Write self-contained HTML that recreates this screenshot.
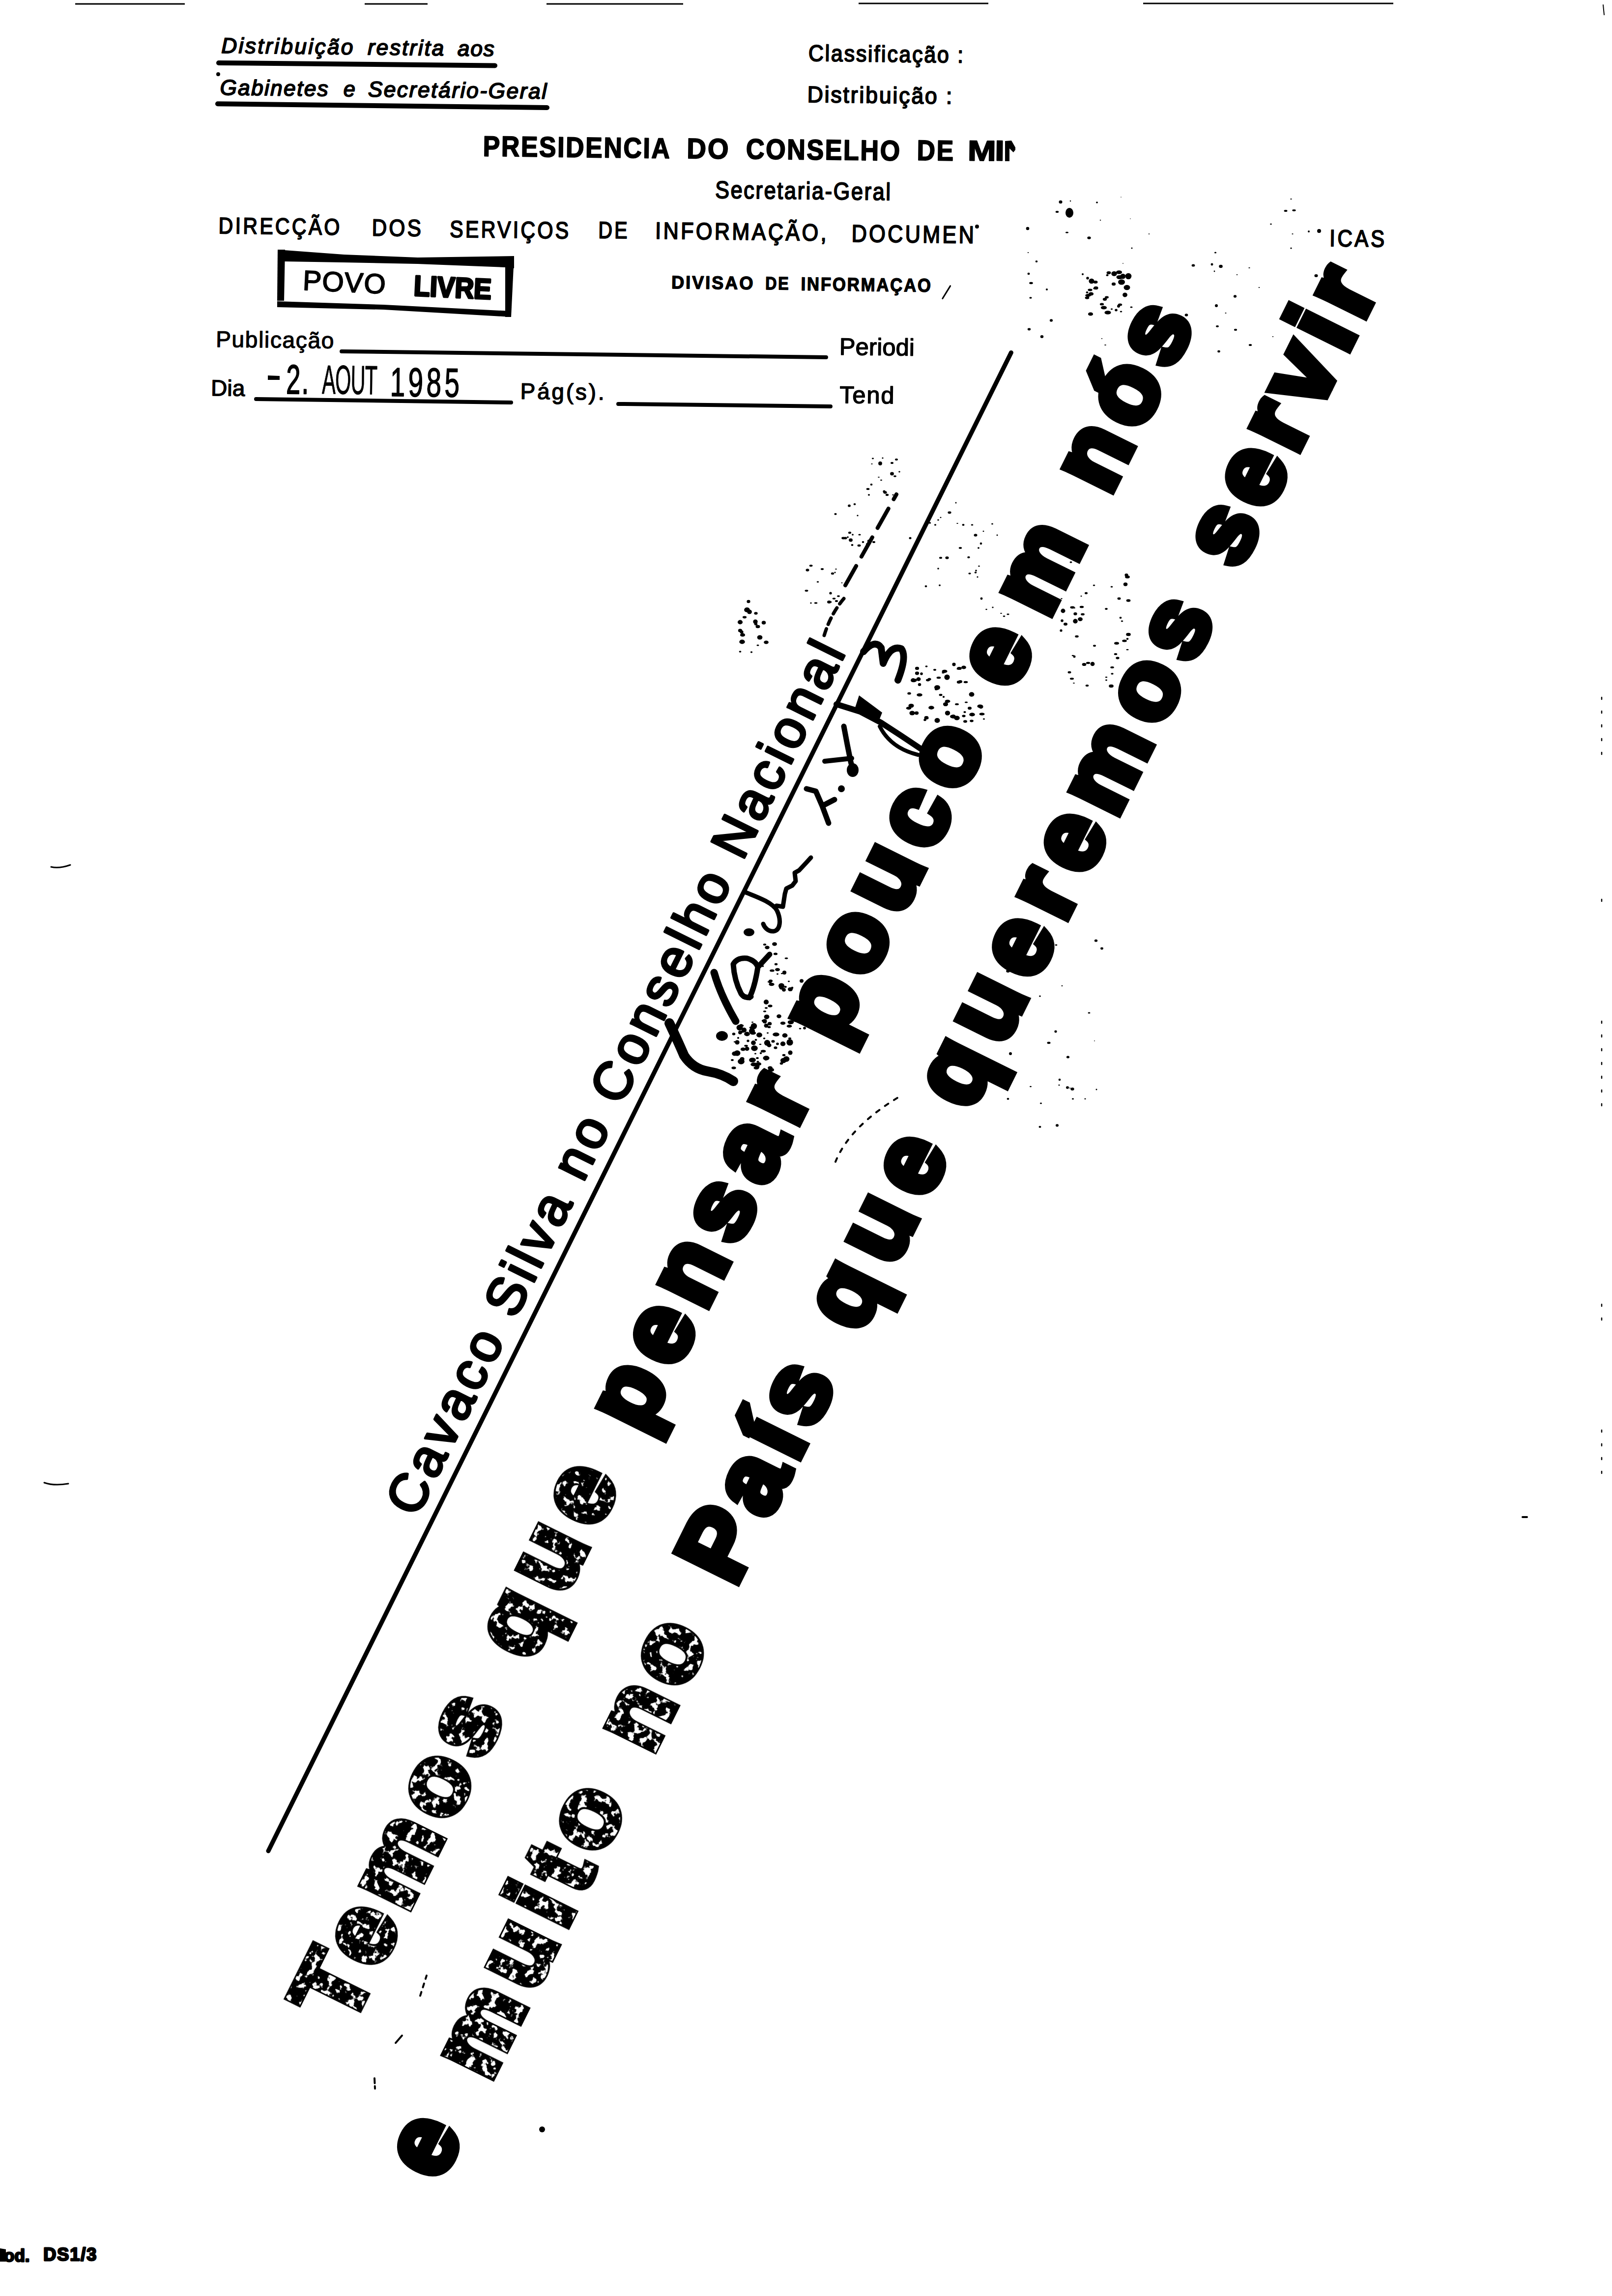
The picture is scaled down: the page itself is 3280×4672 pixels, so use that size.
<!DOCTYPE html>
<html><head><meta charset="utf-8"><title>doc</title>
<style>
html,body{margin:0;padding:0;background:#fff;}
body{width:3280px;height:4672px;overflow:hidden;position:relative;}
svg{position:absolute;left:0;top:0;display:block;}
text{font-family:"Liberation Sans",sans-serif;fill:#000;}
</style></head><body>
<svg width="3280" height="4672" viewBox="0 0 3280 4672">
<defs>
<filter id="tex1" x="-5%" y="-5%" width="110%" height="110%" color-interpolation-filters="sRGB">
<feTurbulence type="fractalNoise" baseFrequency="0.07" numOctaves="3" seed="5" result="n"/>
<feColorMatrix in="n" type="matrix" values="0 0 0 0 0  0 0 0 0 0  0 0 0 0 0  14 0 0 0 -7.8" result="h"/>
<feMorphology in="SourceAlpha" operator="erode" radius="3" result="e"/>
<feComposite in="h" in2="e" operator="in" result="hole"/>
<feComposite in="SourceGraphic" in2="hole" operator="out"/>
</filter>
<filter id="tex2" x="-5%" y="-5%" width="110%" height="110%" color-interpolation-filters="sRGB">
<feTurbulence type="fractalNoise" baseFrequency="0.07" numOctaves="3" seed="9" result="n"/>
<feColorMatrix in="n" type="matrix" values="0 0 0 0 0  0 0 0 0 0  0 0 0 0 0  14 0 0 0 -8.2" result="h"/>
<feMorphology in="SourceAlpha" operator="erode" radius="3" result="e"/>
<feComposite in="h" in2="e" operator="in" result="hole"/>
<feComposite in="SourceGraphic" in2="hole" operator="out"/>
</filter>
</defs>
<rect width="3280" height="4672" fill="#fff"/>
<g stroke="#000" stroke-width="3">
<line x1="153" y1="8" x2="376" y2="8"/><line x1="742" y1="8" x2="870" y2="8"/><line x1="1112" y1="8" x2="1390" y2="8"/>
<line x1="1747" y1="7" x2="2011" y2="7"/><line x1="2326" y1="7" x2="2835" y2="7"/></g>
<g transform="rotate(0.6875 447 475)">
<text x="445.8" y="107.7" font-size="44.00" font-style="italic" textLength="268.1" lengthAdjust="spacing" stroke="#000" stroke-width="2" stroke-linejoin="round">Distribuição</text>
<text x="743.6" y="107.7" font-size="44.00" font-style="italic" textLength="155.1" lengthAdjust="spacing" stroke="#000" stroke-width="2" stroke-linejoin="round">restrita</text>
<text x="926.5" y="107.7" font-size="44.00" font-style="italic" textLength="74.7" lengthAdjust="spacing" stroke="#000" stroke-width="2" stroke-linejoin="round">aos</text>
<line x1="440.8" y1="128.0" x2="1002.9" y2="126.8" stroke="#000" stroke-width="10" stroke-linecap="round"/>
<circle cx="440.1" cy="151.1" r="4"/>
<text x="444.0" y="193.0" font-size="44.00" font-style="italic" textLength="220.2" lengthAdjust="spacing" stroke="#000" stroke-width="2" stroke-linejoin="round">Gabinetes</text>
<text transform="translate(696.0 0) scale(0.9769 1) translate(-696.0 0)" x="695.5" y="193.0" font-size="44.00" font-style="italic" stroke="#000" stroke-width="2" stroke-linejoin="round">e</text>
<text x="745.3" y="193.0" font-size="44.00" font-style="italic" textLength="363.3" lengthAdjust="spacing" stroke="#000" stroke-width="2" stroke-linejoin="round">Secretário-Geral</text>
<line x1="439.8" y1="211.4" x2="1109.9" y2="211.0" stroke="#000" stroke-width="10" stroke-linecap="round"/>
<text transform="translate(1641.7 0) scale(0.9221 1) translate(-1641.7 0)" x="1640.4" y="109.6" font-size="46.51" textLength="341.9" lengthAdjust="spacing" stroke="#000" stroke-width="2" stroke-linejoin="round">Classificação :</text>
<text transform="translate(1641.7 0) scale(0.9572 1) translate(-1641.7 0)" x="1639.0" y="193.6" font-size="46.51" textLength="307.8" lengthAdjust="spacing" stroke="#000" stroke-width="2" stroke-linejoin="round">Distribuição :</text>
<text transform="translate(983.1 0) scale(0.8894 1) translate(-983.1 0)" x="980.3" y="311.0" font-size="58.14" font-weight="bold" textLength="427.4" lengthAdjust="spacing" stroke="#000" stroke-width="2" stroke-linejoin="round">PRESIDENCIA</text>
<text transform="translate(1398.1 0) scale(0.9407 1) translate(-1398.1 0)" x="1395.3" y="310.6" font-size="58.14" font-weight="bold" textLength="90.2" lengthAdjust="spacing" stroke="#000" stroke-width="2" stroke-linejoin="round">DO</text>
<text transform="translate(1517.1 0) scale(0.8930 1) translate(-1517.1 0)" x="1515.8" y="310.1" font-size="58.14" font-weight="bold" textLength="350.5" lengthAdjust="spacing" stroke="#000" stroke-width="2" stroke-linejoin="round">CONSELHO</text>
<text transform="translate(1866.1 0) scale(0.8870 1) translate(-1866.1 0)" x="1863.3" y="308.8" font-size="58.14" font-weight="bold" textLength="83.8" lengthAdjust="spacing" stroke="#000" stroke-width="2" stroke-linejoin="round">DE</text>
<text transform="translate(1970.1 0) scale(1.1944 1) translate(-1970.1 0)" x="1967.3" y="308.2" font-size="58.14" font-weight="bold" stroke="#000" stroke-width="2" stroke-linejoin="round">M</text>
<text transform="translate(2025.4 0) scale(1.2176 1) translate(-2025.4 0)" x="2022.6" y="307.5" font-size="58.14" font-weight="bold" stroke="#000" stroke-width="2" stroke-linejoin="round">I</text>
<polygon points="2042.6,267.8 2055.6,266.7 2063.8,280.6 2063.8,285.6 2059.9,290.6 2051.8,282.7 2052.1,308.7 2043.1,308.8"/>
<text transform="translate(1455.1 0) scale(0.8761 1) translate(-1455.1 0)" x="1453.8" y="390.9" font-size="49.42" textLength="407.5" lengthAdjust="spacing" stroke="#000" stroke-width="2" stroke-linejoin="round">Secretaria-Geral</text>
<text transform="translate(447.0 0) scale(0.8787 1) translate(-447.0 0)" x="444.3" y="475.0" font-size="46.51" textLength="280.5" lengthAdjust="spacing" stroke="#000" stroke-width="2" stroke-linejoin="round">DIRECÇÃO</text>
<text transform="translate(759.0 0) scale(0.8803 1) translate(-759.0 0)" x="756.2" y="475.8" font-size="47.97" textLength="113.9" lengthAdjust="spacing" stroke="#000" stroke-width="2" stroke-linejoin="round">DOS</text>
<text transform="translate(916.1 0) scale(0.8581 1) translate(-916.1 0)" x="914.9" y="476.9" font-size="47.97" textLength="282.0" lengthAdjust="spacing" stroke="#000" stroke-width="2" stroke-linejoin="round">SERVIÇOS</text>
<text transform="translate(1219.7 0) scale(0.8245 1) translate(-1219.7 0)" x="1216.8" y="475.2" font-size="47.97" textLength="71.6" lengthAdjust="spacing" stroke="#000" stroke-width="2" stroke-linejoin="round">DE</text>
<text transform="translate(1336.1 0) scale(0.8972 1) translate(-1336.1 0)" x="1332.7" y="475.1" font-size="47.97" textLength="388.4" lengthAdjust="spacing" stroke="#000" stroke-width="2" stroke-linejoin="round">INFORMAÇÃO,</text>
<text transform="translate(1735.1 0) scale(0.8735 1) translate(-1735.1 0)" x="1732.2" y="476.5" font-size="49.42" textLength="285.3" lengthAdjust="spacing" stroke="#000" stroke-width="2" stroke-linejoin="round">DOCUMEN</text>
<text transform="translate(2708.1 0) scale(0.8815 1) translate(-2708.1 0)" x="2704.8" y="473.9" font-size="47.97" textLength="126.9" lengthAdjust="spacing" stroke="#000" stroke-width="2" stroke-linejoin="round">ICAS</text>
<circle cx="1987.7" cy="442.5" r="4"/>
<circle cx="2683.8" cy="443.2" r="4"/>
<circle cx="2662.8" cy="444.4" r="2"/>
<text transform="translate(1369.0 0) scale(0.9753 1) translate(-1369.0 0)" x="1367.3" y="575.9" font-size="37.06" font-weight="bold" textLength="170.4" lengthAdjust="spacing" stroke="#000" stroke-width="1.5" stroke-linejoin="round">DIVISAO</text>
<text transform="translate(1559.8 0) scale(0.8729 1) translate(-1559.8 0)" x="1558.1" y="575.7" font-size="37.06" font-weight="bold" textLength="54.5" lengthAdjust="spacing" stroke="#000" stroke-width="1.5" stroke-linejoin="round">DE</text>
<text transform="translate(1632.3 0) scale(0.9139 1) translate(-1632.3 0)" x="1630.6" y="576.5" font-size="38.08" font-weight="bold" textLength="289.3" lengthAdjust="spacing" stroke="#000" stroke-width="1.5" stroke-linejoin="round">INFORMAÇAO</text>
<line x1="1934.8" y1="564.0" x2="1919.3" y2="589.9" stroke="#000" stroke-width="3" stroke-linecap="round"/>
<text x="441.7" y="706.0" font-size="46.22" textLength="240.4" lengthAdjust="spacing" stroke="#000" stroke-width="1.2" stroke-linejoin="round">Publicação</text>
<line x1="697.9" y1="712.0" x2="1683.9" y2="712.2" stroke="#000" stroke-width="8" stroke-linecap="round"/>
<text x="1710.7" y="706.8" font-size="48.69" textLength="152.7" lengthAdjust="spacing" stroke="#000" stroke-width="1.5" stroke-linejoin="round">Periodi</text>
<text x="433.0" y="805.2" font-size="45.78" textLength="69.2" lengthAdjust="spacing" stroke="#000" stroke-width="1.5" stroke-linejoin="round">Dia</text>
<polygon points="548.5,762.8 572.5,763.5 572.6,771.5 548.6,771.8"/>
<text transform="translate(587.9 0) scale(0.6200 1) translate(-587.9 0)" x="584.7" y="799.3" font-size="84.00" textLength="74.2" lengthAdjust="spacing" stroke="#000" stroke-width="2" stroke-linejoin="round">2.</text>
<text transform="translate(658.9 0) scale(0.5000 1) translate(-658.9 0)" x="659.0" y="798.5" font-size="83.00" textLength="225.3" lengthAdjust="spacing" stroke="#000" stroke-width="1" stroke-linejoin="round">AOUT</text>
<text transform="translate(800.9 0) scale(0.6600 1) translate(-800.9 0)" x="795.5" y="801.8" font-size="83.00" textLength="214.1" lengthAdjust="spacing" stroke="#000" stroke-width="1.5" stroke-linejoin="round">1985</text>
<line x1="525.0" y1="811.1" x2="1044.1" y2="811.9" stroke="#000" stroke-width="8" stroke-linecap="round"/>
<text x="1062.5" y="804.3" font-size="45.78" textLength="171.0" lengthAdjust="spacing" stroke="#000" stroke-width="1.5" stroke-linejoin="round">Pág(s).</text>
<line x1="1262.1" y1="812.2" x2="1694.1" y2="812.1" stroke="#000" stroke-width="8" stroke-linecap="round"/>
<text x="1712.2" y="804.8" font-size="48.69" textLength="111.2" lengthAdjust="spacing" stroke="#000" stroke-width="1.5" stroke-linejoin="round">Tend</text>
</g>
<g>
<polygon points="565,508 700,518 850,524 1046,521 1046,546 1028,544 850,537 700,534 580,532 565,531"/>
<polygon points="565,508 580,508 578,612 564,612"/>
<polygon points="564,613 780,620 1040,633 1040,645 780,630 564,625"/>
<polygon points="1028,522 1046,522 1040,645 1028,645"/>
<g transform="rotate(2.700 619 590)"><text x="615.5" y="590.0" font-size="56.69" textLength="168.4" lengthAdjust="spacing" stroke="#000" stroke-width="2" stroke-linejoin="round">POVO</text><text transform="translate(843.3 0) scale(0.9224 1) translate(-843.3 0)" x="841.5" y="590.8" font-size="58.14" font-weight="bold" textLength="171.2" lengthAdjust="spacing" stroke="#000" stroke-width="4" stroke-linejoin="round">LIVRE</text></g>
</g>
<g transform="rotate(-63.63)"><line x1="271" y1="2162" x2="-3132" y2="2162" stroke="#000" stroke-width="9" stroke-linecap="round"/>
<text x="-2392" y="2132" font-size="108" stroke="#000" stroke-width="5" stroke-linejoin="round" textLength="1967" lengthAdjust="spacing">Cavaco Silva no Conselho Nacional</text>
<text x="-3383.0" y="2470.0" font-size="201.00" font-weight="bold" textLength="716.9" lengthAdjust="spacing" stroke="#000" stroke-width="16" stroke-linejoin="miter" filter="url(#tex1)">Temos</text>
<text x="-2553.0" y="2470.0" font-size="201.00" font-weight="bold" textLength="410.7" lengthAdjust="spacing" stroke="#000" stroke-width="16" stroke-linejoin="miter" filter="url(#tex2)">que</text>
<text x="-2036.1" y="2470.0" font-size="201.00" font-weight="bold" textLength="774.9" lengthAdjust="spacing" stroke="#000" stroke-width="16" stroke-linejoin="miter">pensar</text>
<text x="-1150.1" y="2470.0" font-size="201.00" font-weight="bold" textLength="690.0" lengthAdjust="spacing" stroke="#000" stroke-width="16" stroke-linejoin="miter">pouco</text>
<text x="-349.0" y="2470.0" font-size="201.00" font-weight="bold" textLength="344.2" lengthAdjust="spacing" stroke="#000" stroke-width="16" stroke-linejoin="miter">em</text>
<text x="96.9" y="2470.0" font-size="201.00" font-weight="bold" textLength="395.7" lengthAdjust="spacing" stroke="#000" stroke-width="16" stroke-linejoin="miter">nós</text>
<text x="-3584.0" y="2774.0" font-size="201.00" font-weight="bold" stroke="#000" stroke-width="16" stroke-linejoin="miter">e</text>
<text x="-3355.1" y="2774.0" font-size="201.00" font-weight="bold" textLength="633.4" lengthAdjust="spacing" stroke="#000" stroke-width="16" stroke-linejoin="miter" filter="url(#tex1)">muito</text>
<text x="-2612.1" y="2774.0" font-size="201.00" font-weight="bold" textLength="265.4" lengthAdjust="spacing" stroke="#000" stroke-width="16" stroke-linejoin="miter" filter="url(#tex1)">no</text>
<text x="-2231.1" y="2774.0" font-size="201.00" font-weight="bold" textLength="468.5" lengthAdjust="spacing" stroke="#000" stroke-width="16" stroke-linejoin="miter">País</text>
<text x="-1657.0" y="2774.0" font-size="201.00" font-weight="bold" textLength="413.7" lengthAdjust="spacing" stroke="#000" stroke-width="16" stroke-linejoin="miter">que</text>
<text x="-1152.0" y="2774.0" font-size="201.00" font-weight="bold" textLength="1126.9" lengthAdjust="spacing" stroke="#000" stroke-width="16" stroke-linejoin="miter">queremos</text>
<text x="78.0" y="2774.0" font-size="201.00" font-weight="bold" textLength="643.0" lengthAdjust="spacing" stroke="#000" stroke-width="16" stroke-linejoin="miter">servir</text></g>
<path d="M1757,1326 Q1780,1300 1793,1318 L1797,1350 Q1812,1312 1834,1320 Q1846,1336 1827,1384" fill="none" stroke="#000" stroke-width="14" stroke-linecap="round" stroke-linejoin="round"/>
<path d="M1702,1433 L1750,1448 L1792,1470 L1832,1496 L1874,1524" fill="none" stroke="#000" stroke-width="12" stroke-linecap="round" stroke-linejoin="round"/>
<polygon points="1748,1415 1795,1450 1787,1470 1738,1446"/>
<path d="M1790,1478 Q1812,1522 1868,1536" fill="none" stroke="#000" stroke-width="8" stroke-linecap="round" stroke-linejoin="round"/>
<path d="M1717,1478 L1724,1515 L1731,1550 L1736,1570" fill="none" stroke="#000" stroke-width="11" stroke-linecap="round" stroke-linejoin="round"/>
<path d="M1678,1549 L1733,1543" fill="none" stroke="#000" stroke-width="10" stroke-linecap="round" stroke-linejoin="round"/>
<ellipse cx="1735" cy="1567" rx="12" ry="14"/>
<path d="M1641,1605 L1660,1610 L1673,1640 L1698,1627 M1673,1640 L1686,1675" fill="none" stroke="#000" stroke-width="11" stroke-linecap="round" stroke-linejoin="round"/>
<circle cx="1712" cy="1605" r="7"/>
<path d="M1515,1815 C1540,1825 1572,1836 1581,1853 C1590,1872 1588,1893 1574,1895 C1562,1896 1555,1886 1553,1880" fill="none" stroke="#000" stroke-width="9" stroke-linecap="round" stroke-linejoin="round"/>
<path d="M1580,1843 L1593,1845 L1597,1819 L1600,1808 L1612,1802 L1619,1793 L1617,1776 L1626,1771 L1640,1756 L1650,1745" fill="none" stroke="#000" stroke-width="9" stroke-linecap="round" stroke-linejoin="round"/>
<ellipse cx="1524" cy="1897" rx="11" ry="8"/>
<path d="M1453,1979 Q1466,2025 1497,2078" fill="none" stroke="#000" stroke-width="15" stroke-linecap="round" stroke-linejoin="round"/>
<path d="M1492,1962 Q1500,1948 1520,1950 Q1538,1955 1542,1968 L1566,1942 M1542,1968 Q1536,2008 1525,2030 M1492,1962 Q1494,1995 1508,2022 Q1516,2033 1528,2028" fill="none" stroke="#000" stroke-width="11" stroke-linecap="round" stroke-linejoin="round"/>
<path d="M1362,2082 Q1380,2120 1392,2148 Q1410,2175 1440,2180 Q1470,2185 1492,2200" fill="none" stroke="#000" stroke-width="20" stroke-linecap="round" stroke-linejoin="round"/>
<ellipse cx="1469" cy="2108" rx="12" ry="10"/>
<path d="M1677,1293 Q1690,1250 1717,1218" fill="none" stroke="#000" stroke-width="7" stroke-linecap="round" stroke-linejoin="round" stroke-dasharray="14 10"/>
<path d="M1720,1191 L1824,1006" fill="none" stroke="#000" stroke-width="8" stroke-linecap="round" stroke-linejoin="round" stroke-dasharray="45 22"/>
<ellipse cx="1530" cy="2091" rx="5.3" ry="2.8"/>
<ellipse cx="1555" cy="2113" rx="2.3" ry="1.7"/>
<ellipse cx="1495" cy="2120" rx="2.3" ry="1.3"/>
<ellipse cx="1542" cy="2160" rx="2.6" ry="1.6"/>
<ellipse cx="1567" cy="2173" rx="4.9" ry="3.4"/>
<ellipse cx="1609" cy="2080" rx="6.3" ry="4.1"/>
<ellipse cx="1508" cy="2087" rx="3.5" ry="3.2"/>
<ellipse cx="1512" cy="2135" rx="5.2" ry="3.6"/>
<ellipse cx="1557" cy="2081" rx="2.3" ry="1.4"/>
<ellipse cx="1573" cy="2119" rx="3.6" ry="2.8"/>
<ellipse cx="1545" cy="2106" rx="6.0" ry="5.1"/>
<ellipse cx="1520" cy="2134" rx="4.6" ry="4.3"/>
<ellipse cx="1579" cy="2105" rx="6.9" ry="3.9"/>
<ellipse cx="1541" cy="2153" rx="2.8" ry="2.1"/>
<ellipse cx="1495" cy="2144" rx="5.8" ry="4.6"/>
<ellipse cx="1597" cy="2107" rx="5.5" ry="4.4"/>
<ellipse cx="1561" cy="2122" rx="6.2" ry="6.0"/>
<ellipse cx="1548" cy="2143" rx="2.3" ry="2.0"/>
<ellipse cx="1569" cy="2177" rx="6.1" ry="3.9"/>
<ellipse cx="1537" cy="2144" rx="2.1" ry="1.5"/>
<ellipse cx="1511" cy="2087" rx="2.3" ry="2.0"/>
<ellipse cx="1506" cy="2101" rx="4.0" ry="3.7"/>
<ellipse cx="1500" cy="2121" rx="4.7" ry="4.5"/>
<ellipse cx="1590" cy="2164" rx="3.4" ry="2.4"/>
<ellipse cx="1534" cy="2166" rx="6.8" ry="3.9"/>
<ellipse cx="1511" cy="2099" rx="3.2" ry="2.4"/>
<ellipse cx="1562" cy="2102" rx="2.0" ry="1.4"/>
<ellipse cx="1535" cy="2133" rx="6.8" ry="5.7"/>
<ellipse cx="1553" cy="2139" rx="5.4" ry="2.8"/>
<ellipse cx="1600" cy="2155" rx="6.4" ry="5.7"/>
<ellipse cx="1538" cy="2116" rx="2.5" ry="2.1"/>
<ellipse cx="1498" cy="2082" rx="3.0" ry="1.8"/>
<ellipse cx="1531" cy="2080" rx="2.0" ry="1.2"/>
<ellipse cx="1502" cy="2112" rx="2.1" ry="2.0"/>
<ellipse cx="1565" cy="2090" rx="3.3" ry="2.2"/>
<ellipse cx="1534" cy="2088" rx="6.2" ry="6.2"/>
<ellipse cx="1547" cy="2125" rx="2.4" ry="1.3"/>
<ellipse cx="1532" cy="2102" rx="6.1" ry="3.6"/>
<ellipse cx="1493" cy="2173" rx="4.6" ry="2.7"/>
<ellipse cx="1556" cy="2078" rx="4.6" ry="4.6"/>
<ellipse cx="1595" cy="2147" rx="3.3" ry="2.3"/>
<ellipse cx="1510" cy="2155" rx="4.7" ry="4.1"/>
<ellipse cx="1530" cy="2098" rx="6.1" ry="6.0"/>
<ellipse cx="1594" cy="2158" rx="6.1" ry="5.3"/>
<ellipse cx="1518" cy="2128" rx="3.8" ry="1.9"/>
<ellipse cx="1493" cy="2104" rx="3.3" ry="2.8"/>
<ellipse cx="1607" cy="2121" rx="6.7" ry="6.6"/>
<ellipse cx="1607" cy="2113" rx="3.1" ry="1.9"/>
<ellipse cx="1514" cy="2096" rx="5.1" ry="4.9"/>
<ellipse cx="1593" cy="2124" rx="5.3" ry="4.7"/>
<ellipse cx="1500" cy="2143" rx="6.5" ry="5.8"/>
<ellipse cx="1582" cy="2124" rx="2.9" ry="2.6"/>
<ellipse cx="1531" cy="2157" rx="6.9" ry="4.8"/>
<ellipse cx="1539" cy="2173" rx="5.6" ry="3.3"/>
<ellipse cx="1505" cy="2091" rx="6.5" ry="5.9"/>
<ellipse cx="1508" cy="2160" rx="6.9" ry="5.7"/>
<ellipse cx="1533" cy="2132" rx="2.7" ry="1.3"/>
<ellipse cx="1608" cy="2142" rx="4.6" ry="4.5"/>
<ellipse cx="1543" cy="2165" rx="6.1" ry="3.7"/>
<ellipse cx="1521" cy="2105" rx="3.2" ry="2.5"/>
<ellipse cx="1522" cy="2118" rx="2.7" ry="2.5"/>
<ellipse cx="1533" cy="2122" rx="4.9" ry="4.7"/>
<ellipse cx="1541" cy="2170" rx="4.5" ry="3.5"/>
<ellipse cx="1554" cy="2077" rx="4.2" ry="2.5"/>
<ellipse cx="1490" cy="2157" rx="2.9" ry="2.1"/>
<ellipse cx="1578" cy="2132" rx="3.6" ry="2.8"/>
<ellipse cx="1558" cy="2156" rx="2.5" ry="2.0"/>
<ellipse cx="1520" cy="2104" rx="5.9" ry="4.4"/>
<ellipse cx="1559" cy="2153" rx="6.6" ry="4.7"/>
<ellipse cx="1565" cy="2127" rx="4.6" ry="3.9"/>
<ellipse cx="1595" cy="2014" rx="3.9" ry="3.8"/>
<ellipse cx="1619" cy="2076" rx="5.8" ry="3.6"/>
<ellipse cx="1606" cy="2088" rx="5.4" ry="3.0"/>
<ellipse cx="1564" cy="1998" rx="2.3" ry="1.4"/>
<ellipse cx="1559" cy="2039" rx="5.1" ry="4.9"/>
<ellipse cx="1567" cy="2047" rx="4.6" ry="2.7"/>
<ellipse cx="1637" cy="2092" rx="2.9" ry="2.8"/>
<ellipse cx="1590" cy="2006" rx="6.0" ry="5.5"/>
<ellipse cx="1568" cy="1996" rx="4.1" ry="2.7"/>
<ellipse cx="1571" cy="1975" rx="4.9" ry="2.5"/>
<ellipse cx="1605" cy="1997" rx="2.1" ry="1.4"/>
<ellipse cx="1612" cy="2010" rx="2.3" ry="2.2"/>
<ellipse cx="1628" cy="2093" rx="2.4" ry="1.5"/>
<ellipse cx="1556" cy="2058" rx="3.1" ry="1.7"/>
<ellipse cx="1593" cy="2082" rx="5.3" ry="3.3"/>
<ellipse cx="1566" cy="2083" rx="4.3" ry="3.6"/>
<ellipse cx="1561" cy="1928" rx="4.8" ry="3.4"/>
<ellipse cx="1559" cy="2087" rx="4.5" ry="4.1"/>
<ellipse cx="1560" cy="2072" rx="2.3" ry="2.1"/>
<ellipse cx="1596" cy="1979" rx="4.2" ry="4.1"/>
<ellipse cx="1578" cy="1941" rx="4.1" ry="2.5"/>
<ellipse cx="1563" cy="1947" rx="2.2" ry="1.3"/>
<ellipse cx="1582" cy="1973" rx="5.0" ry="3.2"/>
<ellipse cx="1600" cy="1950" rx="3.4" ry="1.7"/>
<ellipse cx="1576" cy="1921" rx="4.9" ry="3.8"/>
<ellipse cx="1570" cy="2003" rx="5.7" ry="3.2"/>
<ellipse cx="1631" cy="1996" rx="4.0" ry="3.7"/>
<ellipse cx="1590" cy="2009" rx="4.8" ry="4.7"/>
<ellipse cx="1585" cy="2068" rx="4.8" ry="3.9"/>
<ellipse cx="1591" cy="1981" rx="2.2" ry="1.3"/>
<ellipse cx="1559" cy="2051" rx="3.0" ry="1.8"/>
<ellipse cx="1560" cy="2069" rx="5.5" ry="4.6"/>
<ellipse cx="1579" cy="1962" rx="3.2" ry="2.3"/>
<ellipse cx="1567" cy="1998" rx="3.1" ry="3.0"/>
<ellipse cx="1645" cy="2016" rx="3.0" ry="2.9"/>
<ellipse cx="1582" cy="1982" rx="2.0" ry="1.4"/>
<ellipse cx="1598" cy="2008" rx="2.8" ry="2.1"/>
<ellipse cx="1552" cy="1966" rx="2.4" ry="1.7"/>
<ellipse cx="1556" cy="1922" rx="3.2" ry="2.0"/>
<ellipse cx="1608" cy="2013" rx="5.0" ry="4.1"/>
<ellipse cx="1961" cy="1457" rx="3.6" ry="2.4"/>
<ellipse cx="2003" cy="1370" rx="4.9" ry="4.0"/>
<ellipse cx="1856" cy="1451" rx="5.6" ry="4.5"/>
<ellipse cx="1963" cy="1449" rx="2.6" ry="1.9"/>
<ellipse cx="1928" cy="1451" rx="5.2" ry="4.8"/>
<ellipse cx="1940" cy="1458" rx="4.7" ry="4.0"/>
<ellipse cx="1885" cy="1356" rx="2.5" ry="1.7"/>
<ellipse cx="1865" cy="1451" rx="4.2" ry="3.4"/>
<ellipse cx="1947" cy="1433" rx="4.0" ry="2.0"/>
<ellipse cx="1973" cy="1441" rx="4.0" ry="3.1"/>
<ellipse cx="1952" cy="1360" rx="4.9" ry="3.1"/>
<ellipse cx="1861" cy="1384" rx="4.9" ry="3.0"/>
<ellipse cx="1964" cy="1468" rx="4.0" ry="2.7"/>
<ellipse cx="1924" cy="1433" rx="5.1" ry="4.1"/>
<ellipse cx="1949" cy="1361" rx="2.6" ry="1.6"/>
<ellipse cx="1965" cy="1388" rx="4.3" ry="2.2"/>
<ellipse cx="1858" cy="1384" rx="4.7" ry="4.0"/>
<ellipse cx="1954" cy="1387" rx="4.1" ry="3.0"/>
<ellipse cx="1922" cy="1366" rx="5.6" ry="3.3"/>
<ellipse cx="2002" cy="1463" rx="2.1" ry="1.5"/>
<ellipse cx="1977" cy="1467" rx="3.8" ry="2.4"/>
<ellipse cx="1882" cy="1465" rx="2.8" ry="2.2"/>
<ellipse cx="1871" cy="1414" rx="5.8" ry="3.3"/>
<ellipse cx="1977" cy="1413" rx="5.5" ry="4.7"/>
<ellipse cx="1885" cy="1459" rx="3.9" ry="2.0"/>
<ellipse cx="1850" cy="1411" rx="3.8" ry="2.5"/>
<ellipse cx="1871" cy="1393" rx="3.3" ry="3.0"/>
<ellipse cx="1849" cy="1441" rx="5.4" ry="3.0"/>
<ellipse cx="1994" cy="1437" rx="5.6" ry="3.6"/>
<ellipse cx="1907" cy="1399" rx="6.0" ry="4.8"/>
<ellipse cx="1905" cy="1403" rx="3.1" ry="1.6"/>
<ellipse cx="1865" cy="1451" rx="3.1" ry="3.0"/>
<ellipse cx="1888" cy="1384" rx="4.0" ry="2.4"/>
<ellipse cx="1907" cy="1466" rx="5.5" ry="5.0"/>
<ellipse cx="1947" cy="1461" rx="5.8" ry="4.5"/>
<ellipse cx="1961" cy="1358" rx="4.9" ry="3.6"/>
<ellipse cx="1966" cy="1429" rx="3.1" ry="1.6"/>
<ellipse cx="1994" cy="1367" rx="3.9" ry="2.6"/>
<ellipse cx="1895" cy="1440" rx="5.9" ry="3.7"/>
<ellipse cx="1951" cy="1388" rx="4.2" ry="2.9"/>
<ellipse cx="1875" cy="1371" rx="2.8" ry="2.7"/>
<ellipse cx="1927" cy="1378" rx="5.6" ry="5.6"/>
<ellipse cx="1919" cy="1369" rx="2.8" ry="1.5"/>
<ellipse cx="1902" cy="1363" rx="3.0" ry="1.9"/>
<ellipse cx="1938" cy="1458" rx="5.0" ry="3.5"/>
<ellipse cx="1914" cy="1414" rx="3.5" ry="2.3"/>
<ellipse cx="1859" cy="1385" rx="5.9" ry="3.3"/>
<ellipse cx="1928" cy="1427" rx="5.5" ry="3.3"/>
<ellipse cx="1891" cy="1382" rx="3.6" ry="2.6"/>
<ellipse cx="1998" cy="1453" rx="5.5" ry="2.8"/>
<ellipse cx="1854" cy="1436" rx="5.6" ry="4.1"/>
<ellipse cx="1941" cy="1352" rx="3.6" ry="3.4"/>
<ellipse cx="1978" cy="1454" rx="5.9" ry="3.7"/>
<ellipse cx="1866" cy="1370" rx="4.1" ry="3.4"/>
<ellipse cx="1996" cy="1438" rx="4.6" ry="4.0"/>
<ellipse cx="1920" cy="1418" rx="2.2" ry="1.9"/>
<ellipse cx="1885" cy="1461" rx="4.6" ry="3.0"/>
<ellipse cx="1869" cy="1382" rx="4.5" ry="3.9"/>
<ellipse cx="1866" cy="1360" rx="4.1" ry="3.2"/>
<ellipse cx="1910" cy="1379" rx="4.4" ry="2.2"/>
<ellipse cx="2198" cy="1260" rx="4.9" ry="4.0"/>
<ellipse cx="2283" cy="1264" rx="2.3" ry="1.4"/>
<ellipse cx="2294" cy="1322" rx="2.6" ry="1.3"/>
<ellipse cx="2227" cy="1314" rx="3.0" ry="1.9"/>
<ellipse cx="2251" cy="1378" rx="2.3" ry="1.2"/>
<ellipse cx="2203" cy="1250" rx="3.9" ry="2.3"/>
<ellipse cx="2270" cy="1331" rx="3.3" ry="2.0"/>
<ellipse cx="2296" cy="1222" rx="4.4" ry="2.7"/>
<ellipse cx="2186" cy="1336" rx="2.5" ry="2.5"/>
<ellipse cx="2226" cy="1191" rx="2.3" ry="1.6"/>
<ellipse cx="2251" cy="1384" rx="2.0" ry="1.4"/>
<ellipse cx="2185" cy="1390" rx="2.0" ry="1.1"/>
<ellipse cx="2163" cy="1243" rx="4.6" ry="4.4"/>
<ellipse cx="2261" cy="1396" rx="4.8" ry="3.2"/>
<ellipse cx="2181" cy="1381" rx="4.1" ry="2.1"/>
<ellipse cx="2251" cy="1239" rx="2.8" ry="1.9"/>
<ellipse cx="2179" cy="1144" rx="2.5" ry="1.7"/>
<ellipse cx="2294" cy="1174" rx="4.9" ry="2.9"/>
<ellipse cx="2206" cy="1352" rx="4.4" ry="3.1"/>
<ellipse cx="2161" cy="1263" rx="2.8" ry="2.7"/>
<ellipse cx="2182" cy="1236" rx="4.6" ry="2.4"/>
<ellipse cx="2214" cy="1349" rx="4.2" ry="2.2"/>
<ellipse cx="2159" cy="1159" rx="4.7" ry="3.0"/>
<ellipse cx="2263" cy="1371" rx="2.7" ry="1.7"/>
<ellipse cx="2294" cy="1300" rx="2.4" ry="2.1"/>
<ellipse cx="2200" cy="1213" rx="1.5" ry="1.3"/>
<ellipse cx="2288" cy="1304" rx="4.8" ry="2.5"/>
<ellipse cx="2188" cy="1264" rx="4.8" ry="4.7"/>
<ellipse cx="2210" cy="1207" rx="3.0" ry="2.2"/>
<ellipse cx="2290" cy="1189" rx="4.3" ry="3.7"/>
<ellipse cx="2274" cy="1339" rx="3.6" ry="2.4"/>
<ellipse cx="2201" cy="1235" rx="4.2" ry="2.3"/>
<ellipse cx="2183" cy="1334" rx="2.4" ry="1.3"/>
<ellipse cx="2159" cy="1283" rx="2.6" ry="2.6"/>
<ellipse cx="2283" cy="1394" rx="2.4" ry="1.3"/>
<ellipse cx="2168" cy="1270" rx="4.0" ry="2.9"/>
<ellipse cx="2188" cy="1249" rx="3.7" ry="3.1"/>
<ellipse cx="2263" cy="1358" rx="3.8" ry="2.1"/>
<ellipse cx="2277" cy="1218" rx="3.5" ry="2.4"/>
<ellipse cx="2262" cy="1194" rx="2.4" ry="1.5"/>
<ellipse cx="2176" cy="1368" rx="3.5" ry="2.3"/>
<ellipse cx="2212" cy="1395" rx="3.3" ry="2.0"/>
<ellipse cx="2272" cy="1309" rx="5.0" ry="2.7"/>
<ellipse cx="2223" cy="1351" rx="4.4" ry="4.3"/>
<ellipse cx="2160" cy="1218" rx="1.9" ry="1.1"/>
<ellipse cx="2296" cy="1291" rx="4.8" ry="3.3"/>
<ellipse cx="2280" cy="1257" rx="2.4" ry="2.1"/>
<ellipse cx="2292" cy="1170" rx="3.6" ry="2.9"/>
<ellipse cx="2186" cy="1237" rx="2.0" ry="1.2"/>
<ellipse cx="2191" cy="1295" rx="3.8" ry="2.3"/>
<ellipse cx="1954" cy="1115" rx="3.2" ry="1.9"/>
<ellipse cx="1985" cy="1089" rx="3.5" ry="2.7"/>
<ellipse cx="1960" cy="1068" rx="2.5" ry="1.9"/>
<ellipse cx="2019" cy="1066" rx="1.9" ry="1.6"/>
<ellipse cx="1996" cy="1106" rx="2.3" ry="2.2"/>
<ellipse cx="1985" cy="1165" rx="2.4" ry="1.7"/>
<ellipse cx="2043" cy="1254" rx="2.4" ry="1.4"/>
<ellipse cx="2029" cy="1089" rx="1.5" ry="1.4"/>
<ellipse cx="1997" cy="1218" rx="2.5" ry="2.4"/>
<ellipse cx="2001" cy="1081" rx="1.5" ry="1.2"/>
<ellipse cx="2020" cy="1236" rx="1.7" ry="1.4"/>
<ellipse cx="1992" cy="1152" rx="1.9" ry="1.2"/>
<ellipse cx="2007" cy="1240" rx="1.8" ry="1.3"/>
<ellipse cx="2037" cy="1248" rx="2.0" ry="1.1"/>
<ellipse cx="2051" cy="1250" rx="2.7" ry="1.4"/>
<ellipse cx="2293" cy="585" rx="6.5" ry="5.3"/>
<ellipse cx="2284" cy="564" rx="5.9" ry="3.6"/>
<ellipse cx="2246" cy="626" rx="6.1" ry="3.6"/>
<ellipse cx="2230" cy="586" rx="4.6" ry="3.2"/>
<ellipse cx="2221" cy="572" rx="5.6" ry="5.3"/>
<ellipse cx="2214" cy="601" rx="5.8" ry="3.0"/>
<ellipse cx="2285" cy="561" rx="5.0" ry="3.9"/>
<ellipse cx="2266" cy="578" rx="4.1" ry="3.2"/>
<ellipse cx="2248" cy="609" rx="4.2" ry="3.0"/>
<ellipse cx="2212" cy="606" rx="4.4" ry="2.7"/>
<ellipse cx="2279" cy="620" rx="4.3" ry="2.5"/>
<ellipse cx="2253" cy="560" rx="2.6" ry="1.9"/>
<ellipse cx="2218" cy="590" rx="4.6" ry="2.4"/>
<ellipse cx="2267" cy="557" rx="5.7" ry="5.0"/>
<ellipse cx="2256" cy="555" rx="4.5" ry="3.1"/>
<ellipse cx="2296" cy="562" rx="6.3" ry="6.3"/>
<ellipse cx="2276" cy="623" rx="3.0" ry="2.9"/>
<ellipse cx="2254" cy="636" rx="6.6" ry="3.8"/>
<ellipse cx="2281" cy="634" rx="2.3" ry="1.6"/>
<ellipse cx="2278" cy="564" rx="6.5" ry="4.1"/>
<ellipse cx="2283" cy="563" rx="4.5" ry="4.3"/>
<ellipse cx="2229" cy="574" rx="4.5" ry="3.0"/>
<ellipse cx="2213" cy="566" rx="2.8" ry="2.7"/>
<ellipse cx="2271" cy="631" rx="2.8" ry="2.5"/>
<ellipse cx="2220" cy="598" rx="5.2" ry="3.5"/>
<ellipse cx="2289" cy="600" rx="4.9" ry="4.6"/>
<ellipse cx="2219" cy="639" rx="5.1" ry="3.6"/>
<ellipse cx="2282" cy="574" rx="7.0" ry="5.5"/>
<ellipse cx="2242" cy="619" rx="4.2" ry="2.5"/>
<ellipse cx="2277" cy="554" rx="6.1" ry="3.8"/>
<ellipse cx="2480" cy="715" rx="2.8" ry="2.3"/>
<ellipse cx="2281" cy="401" rx="1.1" ry="0.6"/>
<ellipse cx="2466" cy="538" rx="2.5" ry="2.4"/>
<ellipse cx="2171" cy="473" rx="3.0" ry="1.5"/>
<ellipse cx="2092" cy="514" rx="1.3" ry="0.9"/>
<ellipse cx="2227" cy="587" rx="2.8" ry="1.7"/>
<ellipse cx="2471" cy="552" rx="1.4" ry="1.4"/>
<ellipse cx="2239" cy="448" rx="1.3" ry="1.1"/>
<ellipse cx="2621" cy="650" rx="2.2" ry="1.4"/>
<ellipse cx="2097" cy="606" rx="2.7" ry="1.8"/>
<ellipse cx="2484" cy="542" rx="3.8" ry="3.3"/>
<ellipse cx="2242" cy="689" rx="1.1" ry="0.9"/>
<ellipse cx="2338" cy="476" rx="1.2" ry="1.0"/>
<ellipse cx="2098" cy="576" rx="3.8" ry="2.2"/>
<ellipse cx="2212" cy="595" rx="2.5" ry="2.1"/>
<ellipse cx="2586" cy="456" rx="1.9" ry="1.3"/>
<ellipse cx="2120" cy="685" rx="3.3" ry="2.9"/>
<ellipse cx="2094" cy="670" rx="3.2" ry="2.4"/>
<ellipse cx="2542" cy="545" rx="1.7" ry="0.9"/>
<ellipse cx="2232" cy="412" rx="2.0" ry="1.8"/>
<ellipse cx="2514" cy="671" rx="3.1" ry="2.0"/>
<ellipse cx="2428" cy="540" rx="3.4" ry="2.6"/>
<ellipse cx="2252" cy="605" rx="3.9" ry="2.4"/>
<ellipse cx="2627" cy="405" rx="1.8" ry="1.1"/>
<ellipse cx="2544" cy="702" rx="3.2" ry="2.1"/>
<ellipse cx="2627" cy="505" rx="1.7" ry="1.6"/>
<ellipse cx="2475" cy="622" rx="3.0" ry="3.0"/>
<ellipse cx="2376" cy="669" rx="3.1" ry="2.9"/>
<ellipse cx="2357" cy="632" rx="2.7" ry="1.8"/>
<ellipse cx="2219" cy="599" rx="1.2" ry="1.2"/>
<ellipse cx="2178" cy="409" rx="1.3" ry="1.3"/>
<ellipse cx="2300" cy="445" rx="1.1" ry="0.6"/>
<ellipse cx="2513" cy="603" rx="3.1" ry="2.7"/>
<ellipse cx="2130" cy="589" rx="2.1" ry="1.9"/>
<ellipse cx="2590" cy="685" rx="1.2" ry="1.1"/>
<ellipse cx="2648" cy="702" rx="1.3" ry="0.8"/>
<ellipse cx="2158" cy="411" rx="3.5" ry="3.2"/>
<ellipse cx="2477" cy="664" rx="2.9" ry="1.9"/>
<ellipse cx="2151" cy="431" rx="3.3" ry="2.0"/>
<ellipse cx="2285" cy="536" rx="1.1" ry="0.7"/>
<ellipse cx="2262" cy="629" rx="2.1" ry="1.4"/>
<ellipse cx="2678" cy="561" rx="3.6" ry="2.9"/>
<ellipse cx="2109" cy="532" rx="2.3" ry="2.0"/>
<ellipse cx="2302" cy="625" rx="2.6" ry="1.6"/>
<ellipse cx="2616" cy="429" rx="3.5" ry="2.0"/>
<ellipse cx="2091" cy="465" rx="3.3" ry="3.3"/>
<ellipse cx="2093" cy="557" rx="2.5" ry="2.2"/>
<ellipse cx="2203" cy="558" rx="2.0" ry="1.9"/>
<ellipse cx="2249" cy="702" rx="1.9" ry="1.1"/>
<ellipse cx="2517" cy="559" rx="1.3" ry="1.1"/>
<ellipse cx="2139" cy="652" rx="3.1" ry="2.8"/>
<ellipse cx="2473" cy="514" rx="2.2" ry="1.5"/>
<ellipse cx="2633" cy="428" rx="3.7" ry="1.9"/>
<ellipse cx="2216" cy="484" rx="3.7" ry="2.8"/>
<ellipse cx="2321" cy="683" rx="1.7" ry="1.2"/>
<ellipse cx="2414" cy="641" rx="3.3" ry="2.7"/>
<ellipse cx="2303" cy="505" rx="1.5" ry="1.4"/>
<ellipse cx="2494" cy="637" rx="1.5" ry="1.1"/>
<ellipse cx="2562" cy="585" rx="1.4" ry="1.0"/>
<ellipse cx="2630" cy="476" rx="1.6" ry="1.0"/>
<ellipse cx="1542" cy="1313" rx="2.6" ry="1.5"/>
<ellipse cx="1515" cy="1256" rx="4.1" ry="2.4"/>
<ellipse cx="1520" cy="1241" rx="5.9" ry="5.1"/>
<ellipse cx="1506" cy="1326" rx="2.4" ry="1.7"/>
<ellipse cx="1559" cy="1307" rx="4.9" ry="3.5"/>
<ellipse cx="1512" cy="1290" rx="2.4" ry="1.5"/>
<ellipse cx="1523" cy="1224" rx="3.6" ry="3.2"/>
<ellipse cx="1542" cy="1275" rx="4.5" ry="3.3"/>
<ellipse cx="1509" cy="1286" rx="3.6" ry="3.2"/>
<ellipse cx="1554" cy="1267" rx="4.3" ry="3.8"/>
<ellipse cx="1525" cy="1245" rx="4.9" ry="4.6"/>
<ellipse cx="1546" cy="1297" rx="5.4" ry="4.5"/>
<ellipse cx="1538" cy="1270" rx="3.3" ry="2.6"/>
<ellipse cx="1506" cy="1266" rx="5.1" ry="4.4"/>
<ellipse cx="1538" cy="1248" rx="3.7" ry="2.7"/>
<ellipse cx="1537" cy="1265" rx="4.7" ry="4.5"/>
<ellipse cx="1511" cy="1292" rx="5.1" ry="3.6"/>
<ellipse cx="1529" cy="1327" rx="2.2" ry="1.7"/>
<ellipse cx="1510" cy="1306" rx="5.8" ry="4.4"/>
<ellipse cx="1506" cy="1283" rx="4.2" ry="3.6"/>
<ellipse cx="1927" cy="1135" rx="3.6" ry="2.7"/>
<ellipse cx="1912" cy="1191" rx="2.0" ry="1.7"/>
<ellipse cx="1909" cy="1157" rx="1.8" ry="1.8"/>
<ellipse cx="1903" cy="1030" rx="2.2" ry="1.5"/>
<ellipse cx="1852" cy="1095" rx="2.6" ry="2.2"/>
<ellipse cx="1903" cy="1068" rx="2.1" ry="1.8"/>
<ellipse cx="1991" cy="1115" rx="2.0" ry="1.8"/>
<ellipse cx="1909" cy="1058" rx="1.8" ry="1.6"/>
<ellipse cx="1971" cy="1134" rx="2.7" ry="2.1"/>
<ellipse cx="1884" cy="1193" rx="2.4" ry="2.0"/>
<ellipse cx="1973" cy="1167" rx="2.7" ry="1.7"/>
<ellipse cx="1932" cy="1043" rx="3.6" ry="2.4"/>
<ellipse cx="1978" cy="1068" rx="2.4" ry="1.5"/>
<ellipse cx="1914" cy="1053" rx="1.5" ry="1.3"/>
<ellipse cx="1892" cy="1064" rx="2.3" ry="1.7"/>
<ellipse cx="1914" cy="1135" rx="3.1" ry="2.1"/>
<ellipse cx="1989" cy="1174" rx="1.6" ry="1.5"/>
<ellipse cx="1986" cy="1161" rx="1.9" ry="1.7"/>
<ellipse cx="1945" cy="1023" rx="1.5" ry="1.5"/>
<ellipse cx="1948" cy="1065" rx="1.8" ry="1.0"/>
<ellipse cx="2097" cy="2211" rx="2.0" ry="1.2"/>
<ellipse cx="2231" cy="2217" rx="1.5" ry="1.4"/>
<ellipse cx="2172" cy="2213" rx="3.0" ry="2.8"/>
<ellipse cx="2208" cy="2236" rx="1.6" ry="1.3"/>
<ellipse cx="2156" cy="2197" rx="2.3" ry="2.2"/>
<ellipse cx="2161" cy="2006" rx="1.7" ry="1.0"/>
<ellipse cx="2149" cy="1923" rx="2.4" ry="1.4"/>
<ellipse cx="2148" cy="2099" rx="2.6" ry="2.4"/>
<ellipse cx="2051" cy="2236" rx="2.4" ry="1.9"/>
<ellipse cx="2183" cy="2236" rx="2.1" ry="1.5"/>
<ellipse cx="2242" cy="1930" rx="2.9" ry="2.4"/>
<ellipse cx="2056" cy="2144" rx="3.0" ry="2.9"/>
<ellipse cx="2116" cy="2293" rx="2.5" ry="1.9"/>
<ellipse cx="2230" cy="1914" rx="3.2" ry="2.6"/>
<ellipse cx="2118" cy="2245" rx="2.1" ry="1.5"/>
<ellipse cx="2155" cy="2208" rx="1.6" ry="1.2"/>
<ellipse cx="2134" cy="2122" rx="3.5" ry="2.2"/>
<ellipse cx="2216" cy="2061" rx="2.5" ry="1.6"/>
<ellipse cx="2151" cy="2290" rx="3.0" ry="2.7"/>
<ellipse cx="2116" cy="2027" rx="1.9" ry="1.5"/>
<ellipse cx="2177" cy="2214" rx="1.1" ry="1.0"/>
<ellipse cx="2227" cy="2118" rx="1.1" ry="0.7"/>
<ellipse cx="2051" cy="1976" rx="3.8" ry="3.0"/>
<ellipse cx="2182" cy="2216" rx="3.7" ry="3.0"/>
<ellipse cx="2173" cy="2151" rx="3.1" ry="2.5"/>
<ellipse cx="1694" cy="1167" rx="3.2" ry="2.3"/>
<ellipse cx="1701" cy="1158" rx="2.0" ry="1.0"/>
<ellipse cx="1702" cy="1223" rx="3.1" ry="2.1"/>
<ellipse cx="1706" cy="1213" rx="2.9" ry="1.8"/>
<ellipse cx="1664" cy="1184" rx="2.3" ry="1.6"/>
<ellipse cx="1691" cy="1225" rx="1.6" ry="1.3"/>
<ellipse cx="1643" cy="1160" rx="3.5" ry="2.8"/>
<ellipse cx="1713" cy="1186" rx="1.5" ry="1.1"/>
<ellipse cx="1687" cy="1225" rx="4.0" ry="2.9"/>
<ellipse cx="1673" cy="1158" rx="3.1" ry="1.9"/>
<ellipse cx="1652" cy="1151" rx="1.5" ry="1.3"/>
<ellipse cx="1650" cy="1227" rx="1.7" ry="1.6"/>
<ellipse cx="1650" cy="1151" rx="3.3" ry="2.0"/>
<ellipse cx="1699" cy="1165" rx="1.6" ry="1.4"/>
<ellipse cx="1697" cy="1218" rx="3.3" ry="1.8"/>
<ellipse cx="1690" cy="1207" rx="2.7" ry="2.6"/>
<ellipse cx="1660" cy="1227" rx="3.3" ry="1.7"/>
<ellipse cx="1641" cy="1202" rx="3.5" ry="1.9"/>
<ellipse cx="1725" cy="1093" rx="1.9" ry="1.8"/>
<ellipse cx="1739" cy="1026" rx="2.4" ry="1.9"/>
<ellipse cx="1735" cy="1088" rx="1.9" ry="1.7"/>
<ellipse cx="1729" cy="1084" rx="3.1" ry="2.2"/>
<ellipse cx="1731" cy="1099" rx="3.9" ry="3.4"/>
<ellipse cx="1745" cy="1049" rx="1.7" ry="1.6"/>
<ellipse cx="1756" cy="1103" rx="2.3" ry="1.9"/>
<ellipse cx="1778" cy="1103" rx="3.0" ry="2.0"/>
<ellipse cx="1734" cy="1109" rx="2.4" ry="2.1"/>
<ellipse cx="1748" cy="1110" rx="3.5" ry="2.3"/>
<ellipse cx="1700" cy="1046" rx="2.6" ry="2.0"/>
<ellipse cx="1765" cy="1109" rx="1.6" ry="1.5"/>
<ellipse cx="1765" cy="1107" rx="2.9" ry="1.9"/>
<ellipse cx="1768" cy="1101" rx="3.2" ry="3.1"/>
<ellipse cx="1728" cy="1029" rx="2.9" ry="2.6"/>
<ellipse cx="1716" cy="1095" rx="3.8" ry="2.4"/>
<ellipse cx="1749" cy="1088" rx="2.7" ry="1.6"/>
<ellipse cx="1720" cy="1095" rx="3.5" ry="2.5"/>
<ellipse cx="1766" cy="995" rx="3.4" ry="2.1"/>
<ellipse cx="1801" cy="1002" rx="3.7" ry="2.8"/>
<ellipse cx="1793" cy="977" rx="2.0" ry="1.2"/>
<ellipse cx="1773" cy="986" rx="2.4" ry="1.9"/>
<ellipse cx="1788" cy="971" rx="1.9" ry="1.0"/>
<ellipse cx="1830" cy="960" rx="1.8" ry="1.4"/>
<ellipse cx="1815" cy="942" rx="3.0" ry="2.0"/>
<ellipse cx="1796" cy="932" rx="1.6" ry="1.6"/>
<ellipse cx="1821" cy="969" rx="2.9" ry="1.8"/>
<ellipse cx="1815" cy="964" rx="3.9" ry="3.4"/>
<ellipse cx="1817" cy="1007" rx="2.1" ry="1.1"/>
<ellipse cx="1774" cy="944" rx="1.7" ry="0.9"/>
<ellipse cx="1799" cy="1000" rx="2.6" ry="2.6"/>
<ellipse cx="1824" cy="935" rx="3.0" ry="2.1"/>
<ellipse cx="1768" cy="1007" rx="2.1" ry="1.7"/>
<ellipse cx="1805" cy="1007" rx="3.2" ry="2.2"/>
<ellipse cx="1791" cy="943" rx="3.9" ry="3.9"/>
<ellipse cx="1776" cy="933" rx="2.1" ry="1.4"/>
<ellipse cx="2176" cy="433" rx="8" ry="10"/>
<path d="M3259,1419 L3259,1547" fill="none" stroke="#000" stroke-width="2.5" stroke-linecap="round" stroke-linejoin="round" stroke-dasharray="4 24"/>
<path d="M3259,1830 L3259,1858" fill="none" stroke="#000" stroke-width="2.5" stroke-linecap="round" stroke-linejoin="round" stroke-dasharray="4 24"/>
<path d="M3259,2078 L3259,2251" fill="none" stroke="#000" stroke-width="2.5" stroke-linecap="round" stroke-linejoin="round" stroke-dasharray="4 24"/>
<path d="M3259,2654 L3259,2699" fill="none" stroke="#000" stroke-width="2.5" stroke-linecap="round" stroke-linejoin="round" stroke-dasharray="4 24"/>
<path d="M3259,2910 L3259,3001" fill="none" stroke="#000" stroke-width="2.5" stroke-linecap="round" stroke-linejoin="round" stroke-dasharray="4 24"/>
<path d="M3098,3087 L3107,3087" fill="none" stroke="#000" stroke-width="4" stroke-linecap="round" stroke-linejoin="round"/>
<path d="M104,1764 Q120,1768 143,1760" fill="none" stroke="#000" stroke-width="3" stroke-linecap="round" stroke-linejoin="round"/>
<path d="M90,3017 Q110,3024 139,3019" fill="none" stroke="#000" stroke-width="3" stroke-linecap="round" stroke-linejoin="round"/>
<path d="M1700,2364 Q1730,2290 1836,2228" fill="none" stroke="#000" stroke-width="4" stroke-linecap="round" stroke-linejoin="round" stroke-dasharray="8 14"/>
<circle cx="1103" cy="4333" r="6"/>
<path d="M855,4061 L868,4020" fill="none" stroke="#000" stroke-width="4" stroke-linecap="round" stroke-linejoin="round" stroke-dasharray="8 10"/>
<path d="M805,4157 L818,4142" fill="none" stroke="#000" stroke-width="4" stroke-linecap="round" stroke-linejoin="round"/>
<path d="M762,4229 L763,4250" fill="none" stroke="#000" stroke-width="4" stroke-linecap="round" stroke-linejoin="round" stroke-dasharray="10 6"/>
<path d="M3262,10 L3264,30" fill="none" stroke="#000" stroke-width="2" stroke-linecap="round" stroke-linejoin="round"/>
<text x="88.2" y="4600.0" font-size="36.00" font-weight="bold" textLength="108.1" lengthAdjust="spacing" stroke="#000" stroke-width="3" stroke-linejoin="round">DS1/3</text>
<text transform="translate(8.0 0) scale(0.9710 1) translate(-8.0 0)" x="8.1" y="4602.0" font-size="36.00" font-weight="bold" textLength="54.0" lengthAdjust="spacing" stroke="#000" stroke-width="3" stroke-linejoin="round">od.</text>
<polygon points="0,4575 12,4577 12,4602 0,4602"/>
</svg></body></html>
